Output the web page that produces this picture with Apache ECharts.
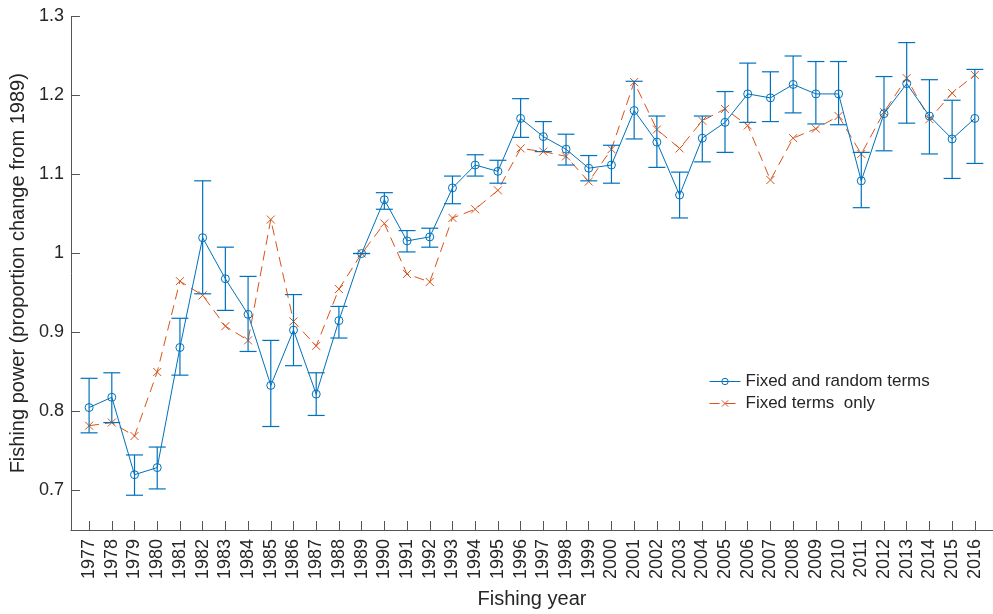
<!DOCTYPE html>
<html>
<head>
<meta charset="utf-8">
<script src="https://cdn.jsdelivr.net/npm/echarts@6/dist/echarts.min.js"></script>
<style>html,body{margin:0;padding:0;background:#fff}#c{width:993px;height:614px}</style>
</head>
<body>
<div id="c"></div>
<script>
const years = [1977,1978,1979,1980,1981,1982,1983,1984,1985,1986,1987,1988,1989,1990,1991,1992,1993,1994,1995,1996,1997,1998,1999,2000,2001,2002,2003,2004,2005,2006,2007,2008,2009,2010,2011,2012,2013,2014,2015,2016];
const fixedRandom = [0.805,0.818,0.720,0.729,0.881,1.020,0.968,0.923,0.833,0.903,0.822,0.915,1.000,1.068,1.016,1.021,1.083,1.112,1.104,1.171,1.148,1.132,1.108,1.112,1.181,1.141,1.074,1.146,1.166,1.202,1.197,1.214,1.202,1.202,1.092,1.177,1.215,1.174,1.145,1.171];
const fixedRandomHi = [0.842,0.849,0.745,0.755,0.918,1.092,1.008,0.971,0.890,0.948,0.849,0.933,1.000,1.077,1.029,1.032,1.098,1.125,1.118,1.196,1.167,1.151,1.124,1.137,1.218,1.174,1.103,1.174,1.205,1.241,1.230,1.250,1.243,1.243,1.128,1.224,1.267,1.220,1.194,1.233];
const fixedRandomLo = [0.773,0.786,0.694,0.702,0.846,0.949,0.928,0.876,0.781,0.858,0.795,0.893,1.000,1.056,1.002,1.008,1.063,1.098,1.089,1.147,1.129,1.112,1.092,1.089,1.145,1.109,1.045,1.116,1.128,1.166,1.167,1.178,1.164,1.163,1.058,1.130,1.165,1.126,1.095,1.114];
const fixedOnly = [0.782,0.786,0.769,0.850,0.965,0.947,0.908,0.890,1.043,0.914,0.883,0.955,1.000,1.038,0.974,0.964,1.045,1.056,1.080,1.133,1.129,1.123,1.091,1.132,1.217,1.157,1.133,1.168,1.183,1.162,1.093,1.146,1.158,1.174,1.126,1.179,1.222,1.170,1.203,1.226];
const yTicks = [0.7,0.8,0.9,1.0,1.1,1.2,1.3];

const BLUE = '#0072BD', ORANGE = '#D95319', AX = '#262626';
const chart = echarts.init(document.getElementById('c'), null, {renderer:'canvas'});
const FONT = 'Liberation Sans, Arial, sans-serif';

chart.setOption({
  animation: false,
  backgroundColor: '#fff',
  grid: {left: 70, top: 16.5, width: 934, height: 519.5, containLabel: false},
  legend: {
    orient: 'vertical', left: 704, top: 368,
    itemWidth: 31, itemHeight: 8, itemGap: 5,
    lineStyle: {width: 1},
    itemStyle: {borderWidth: 1},
    textStyle: {fontFamily: FONT, fontSize: 17, color: AX},
    data: ['Fixed and random terms', 'Fixed terms  only']
  },
  xAxis: {
    type: 'value', min: 1976.2, max: 2016.8,
    name: 'Fishing year', nameLocation: 'middle', nameGap: 59,
    nameTextStyle: {fontFamily: FONT, fontSize: 20, color: AX},
    axisLine: {show: true, lineStyle: {color: '#555', width: 1}},
    axisTick: {show: true, inside: true, length: 9, customValues: years, lineStyle: {color: '#555'}},
    axisLabel: {show: true, rotate: 90, margin: 9, customValues: years, fontFamily: FONT, fontSize: 18, color: AX, formatter: v => String(Math.round(v))},
    splitLine: {show: false}
  },
  yAxis: {
    type: 'value', min: 0.65, max: 1.3,
    name: 'Fishing power (proportion change from 1989)', nameLocation: 'middle', nameGap: 31, nameRotate: 90,
    nameTextStyle: {fontFamily: FONT, fontSize: 20, color: AX},
    axisLine: {show: true, lineStyle: {color: '#555', width: 1}},
    axisTick: {show: true, inside: true, length: 9, customValues: yTicks, lineStyle: {color: '#555'}},
    axisLabel: {show: true, margin: 7, customValues: yTicks, fontFamily: FONT, fontSize: 18, color: AX, formatter: v => String(Number(v.toFixed(1)))},
    splitLine: {show: false}
  },
  series: [
    {
      name: 'errorbars', type: 'custom', z: 3,
      data: years.map((y, i) => [y, fixedRandomLo[i], fixedRandomHi[i]]),
      encode: {x: 0, y: [1, 2]},
      renderItem: function (params, api) {
        const x = api.value(0), lo = api.value(1), hi = api.value(2);
        const pH = api.coord([x, hi]), pL = api.coord([x, lo]);
        const w = 8.5;
        const st = {stroke: BLUE, lineWidth: 1.2};
        return {type: 'group', children: [
          {type: 'line', shape: {x1: pH[0], y1: pH[1], x2: pL[0], y2: pL[1]}, style: st},
          {type: 'line', shape: {x1: pH[0]-w, y1: pH[1], x2: pH[0]+w, y2: pH[1]}, style: st},
          {type: 'line', shape: {x1: pL[0]-w, y1: pL[1], x2: pL[0]+w, y2: pL[1]}, style: st}
        ]};
      },
      silent: true
    },
    {
      name: 'Fixed and random terms', type: 'line', z: 4,
      data: years.map((y, i) => [y, fixedRandom[i]]),
      symbol: 'circle', symbolSize: 8, showSymbol: true,
      lineStyle: {color: BLUE, width: 1},
      itemStyle: {color: 'none', borderColor: BLUE, borderWidth: 1}
    },
    {
      name: 'Fixed terms  only', type: 'line', z: 2,
      data: years.map((y, i) => [y, fixedOnly[i]]),
      symbol: 'path://M0,0L10,10M10,0L0,10', symbolSize: 8, showSymbol: true,
      lineStyle: {color: ORANGE, width: 1, type: [10, 6]},
      itemStyle: {color: 'none', borderColor: ORANGE, borderWidth: 1}
    }
  ]
});
</script>
</body>
</html>
